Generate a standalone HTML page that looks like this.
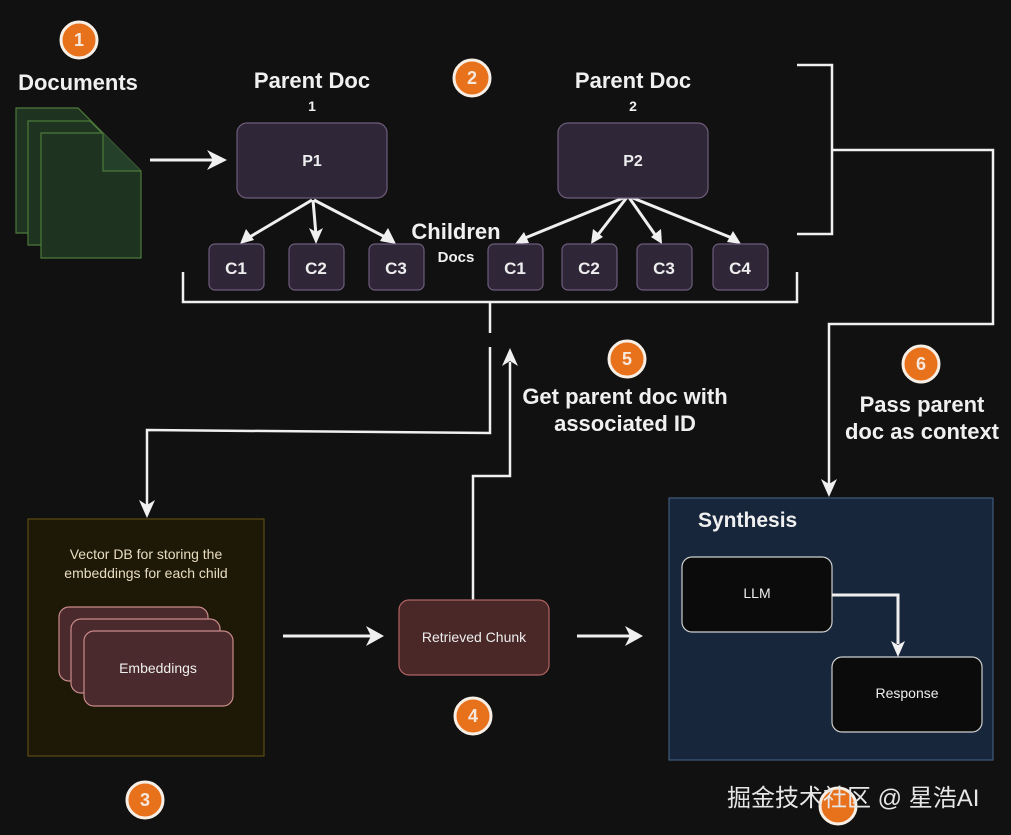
<!DOCTYPE html>
<html><head><meta charset="utf-8"><style>
html,body{margin:0;padding:0;background:#111111;}
svg{display:block;}
text{font-family:"Liberation Sans","Noto Sans CJK SC",sans-serif;}
</style></head><body>
<svg width="1011" height="835" viewBox="0 0 1011 835" xmlns="http://www.w3.org/2000/svg">
<rect width="1011" height="835" fill="#111111"/>
<g font-weight="bold" fill="#f0f0f0" text-anchor="middle">
<text x="78" y="90" font-size="22">Documents</text>
<text x="312" y="88" font-size="22">Parent Doc</text>
<text x="312" y="111" font-size="14">1</text>
<text x="633" y="88" font-size="22">Parent Doc</text>
<text x="633" y="111" font-size="14">2</text>
<text x="456" y="239" font-size="22">Children</text>
<text x="456" y="262" font-size="15">Docs</text>
<text x="625" y="404" font-size="22">Get parent doc with</text>
<text x="625" y="431" font-size="22">associated ID</text>
<text x="922" y="412" font-size="22">Pass parent</text>
<text x="922" y="439" font-size="22">doc as context</text>
</g>
<g fill="#1e3320" stroke="#4d7a3a" stroke-width="1.2">
<path d="M16 108 H78 L103 133 V233 H16 Z"/>
<path d="M28 121 H90 L115 146 V245 H28 Z"/>
<path d="M41 133 H103 L141 171 V258 H41 Z"/>
<path d="M103 133 V171 H141" fill="#25402a"/>
</g>
<g stroke="#f0f0f0" stroke-width="3" fill="none">
<line x1="150" y1="160" x2="215" y2="160"/>
<line x1="312" y1="200" x2="248" y2="238"/>
<line x1="313" y1="200" x2="316" y2="235"/>
<line x1="314" y1="200" x2="387" y2="238"/>
<line x1="628" y1="196" x2="525" y2="238"/>
<line x1="628" y1="196" x2="597" y2="236"/>
<line x1="628" y1="196" x2="656" y2="236"/>
<line x1="628" y1="196" x2="732" y2="238"/>
<polyline points="183,272 183,302 797,302 797,272" stroke-width="2.5"/>
<line x1="490" y1="302" x2="490" y2="333" stroke-width="2.5"/>
<polyline points="490,347 490,433 147,430 147,505" stroke-width="2.5"/>
<polyline points="473,600 473,476 510,476 510,362" stroke-width="2.5"/>
<polyline points="797,65 832,65 832,234 797,234" stroke-width="2.5"/>
<polyline points="832,150 993,150 993,324 829,324 829,484" stroke-width="2.5"/>
<line x1="283" y1="636" x2="372" y2="636" stroke-width="3"/>
<line x1="577" y1="636" x2="632" y2="636" stroke-width="3"/>
</g>
<g fill="#f0f0f0">
<polygon points="227,160 207,150 213,160 207,170"/>
<polygon points="240,244 246,229 254,240"/>
<polygon points="316,244 309,228 316,232 323,228"/>
<polygon points="396,244 380,241 388,228"/>
<polygon points="515,244 524,232 529,243"/>
<polygon points="591,244 593,229 603,237"/>
<polygon points="662,244 651,237 661,229"/>
<polygon points="741,244 727,242 733,231"/>
<polygon points="147,518 139,500 147,505 155,500"/>
<polygon points="510,348 502,366 510,361 518,366"/>
<polygon points="829,497 821,479 829,484 837,479"/>
<polygon points="384,636 366,626 371,636 366,646"/>
<polygon points="643,636 625,626 630,636 625,646"/>
</g>
<g fill="#2f2638" stroke="#6d5d7c" stroke-width="1.2">
<rect x="237" y="123" width="150" height="75" rx="10"/>
<rect x="558" y="123" width="150" height="75" rx="10"/>
<rect x="209" y="244" width="55" height="46" rx="6"/>
<rect x="289" y="244" width="55" height="46" rx="6"/>
<rect x="369" y="244" width="55" height="46" rx="6"/>
<rect x="488" y="244" width="55" height="46" rx="6"/>
<rect x="562" y="244" width="55" height="46" rx="6"/>
<rect x="637" y="244" width="55" height="46" rx="6"/>
<rect x="713" y="244" width="55" height="46" rx="6"/>
</g>
<g font-weight="bold" fill="#eeeeee" text-anchor="middle" font-size="17">
<text x="312" y="166" font-size="16">P1</text>
<text x="633" y="166" font-size="16">P2</text>
<text x="236" y="274">C1</text>
<text x="316" y="274">C2</text>
<text x="396" y="274">C3</text>
<text x="515" y="274">C1</text>
<text x="589" y="274">C2</text>
<text x="664" y="274">C3</text>
<text x="740" y="274">C4</text>
</g>
<rect x="28" y="519" width="236" height="237" fill="#1e1807" stroke="#5c4c12" stroke-width="1.2"/>
<text x="146" y="559" font-size="14" fill="#e8dcc0" text-anchor="middle">Vector DB for storing the</text>
<text x="146" y="578" font-size="14" fill="#e8dcc0" text-anchor="middle">embeddings for each child</text>
<g fill="#4a2a2c" stroke="#c98a8a" stroke-width="1.2">
<rect x="59" y="607" width="149" height="74" rx="10"/>
<rect x="71" y="619" width="149" height="74" rx="10"/>
<rect x="84" y="631" width="149" height="75" rx="10"/>
</g>
<text x="158" y="673" font-size="14" fill="#eeeeee" text-anchor="middle">Embeddings</text>
<rect x="399" y="600" width="150" height="75" rx="10" fill="#4a2828" stroke="#b06262" stroke-width="1.2"/>
<text x="474" y="642" font-size="14" fill="#eeeeee" text-anchor="middle">Retrieved Chunk</text>
<rect x="669" y="498" width="324" height="262" fill="#17263a" stroke="#3f5b7c" stroke-width="1.2"/>
<text x="698" y="527" font-size="21" font-weight="bold" fill="#f0f0f0">Synthesis</text>
<rect x="682" y="557" width="150" height="75" rx="10" fill="#0b0b0b" stroke="#cfcfcf" stroke-width="1.2"/>
<text x="757" y="598" font-size="14" fill="#eeeeee" text-anchor="middle">LLM</text>
<rect x="832" y="657" width="150" height="75" rx="10" fill="#0b0b0b" stroke="#cfcfcf" stroke-width="1.2"/>
<text x="907" y="698" font-size="14" fill="#eeeeee" text-anchor="middle">Response</text>
<polyline points="832,595 898,595 898,644" stroke="#f0f0f0" stroke-width="3" fill="none"/>
<polygon points="898,657 891,641 898,645 905,641" fill="#f0f0f0"/>
<g stroke="#f7efe6" stroke-width="3" fill="#e8711c">
<circle cx="79" cy="40" r="18"/>
<circle cx="472" cy="78" r="18"/>
<circle cx="627" cy="359" r="18"/>
<circle cx="921" cy="364" r="18"/>
<circle cx="473" cy="716" r="18"/>
<circle cx="145" cy="800" r="18"/>
<circle cx="838" cy="806" r="18"/>
</g>
<g fill="#f6e8dc" font-size="18" font-weight="bold" text-anchor="middle">
<text x="79" y="46">1</text>
<text x="472" y="84">2</text>
<text x="627" y="365">5</text>
<text x="921" y="370">6</text>
<text x="473" y="722">4</text>
<text x="145" y="806">3</text>
</g>
<text x="727" y="806" font-size="24" fill="#e6e6e6">掘金技术社区 @ 星浩AI</text>
</svg>
</body></html>
